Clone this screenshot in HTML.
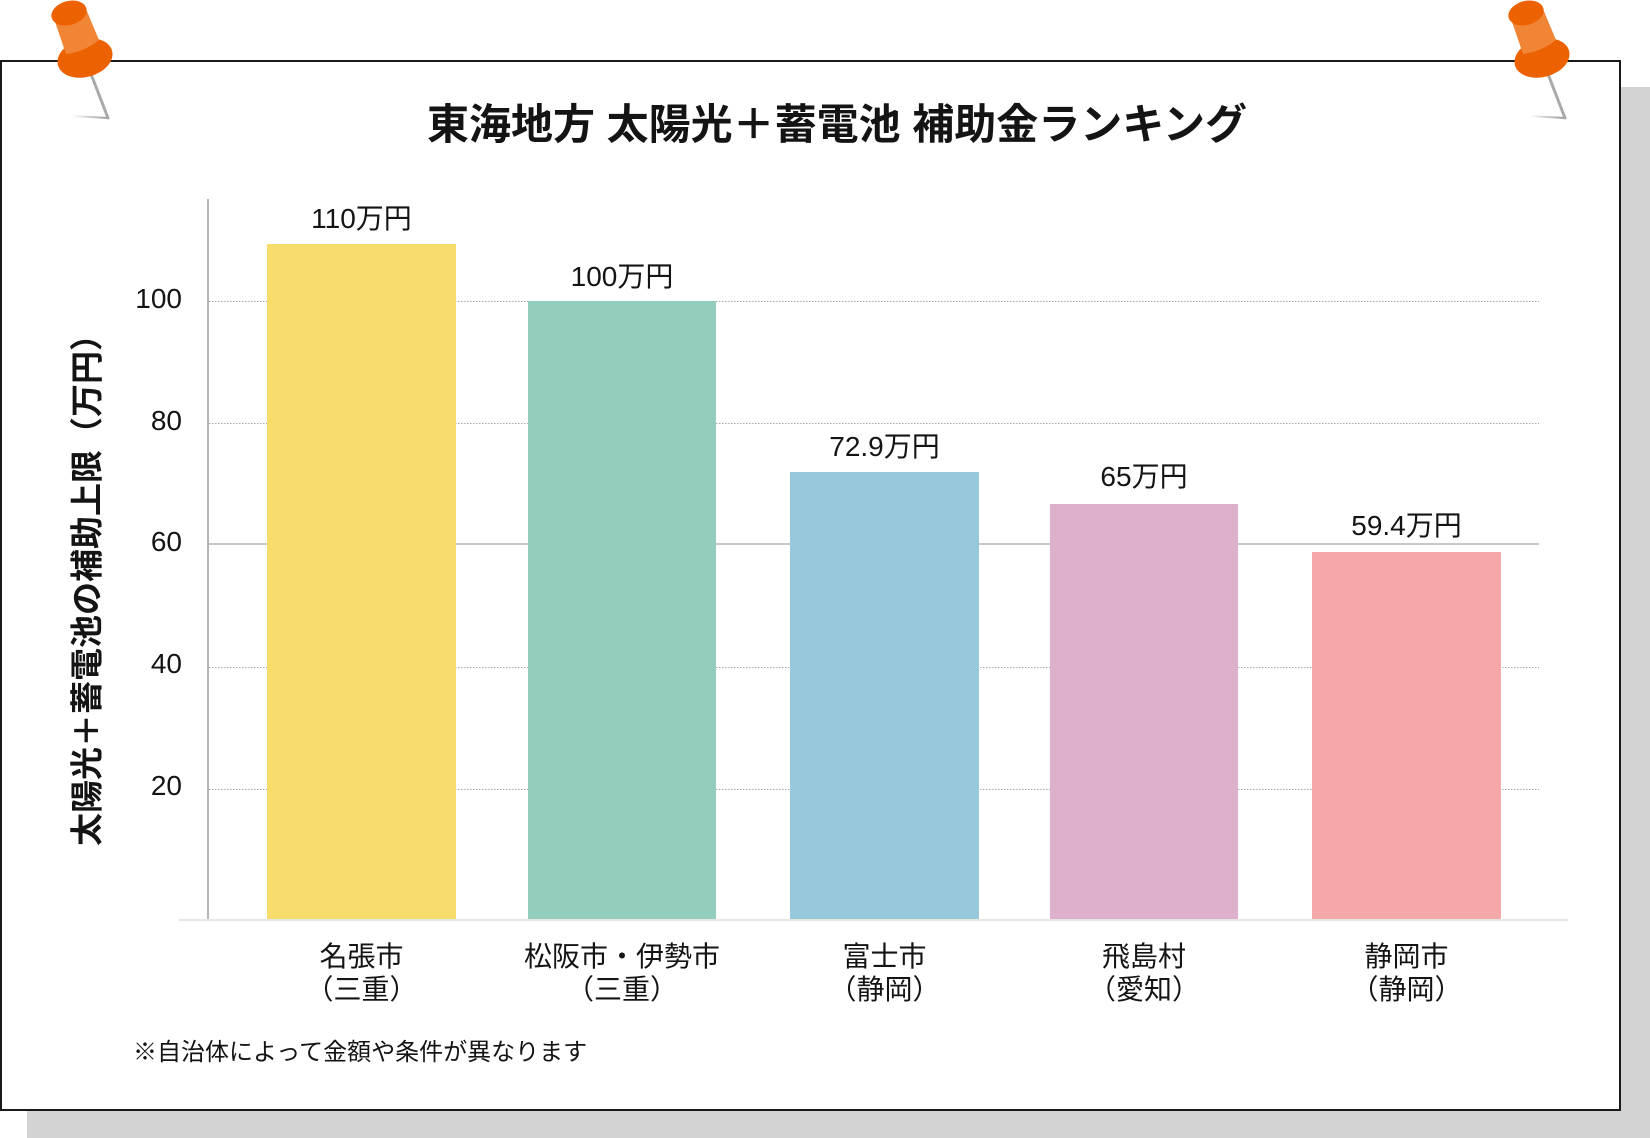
<!DOCTYPE html>
<html lang="ja">
<head>
<meta charset="utf-8">
<style>
  html, body { margin: 0; padding: 0; background: #ffffff; }
  body { width: 1650px; height: 1138px; overflow: hidden; }
  svg { display: block; }
  text { font-family: "Liberation Sans", "Noto Sans CJK JP", sans-serif; fill: #141414; }
</style>
</head>
<body>
<svg width="1650" height="1138" viewBox="0 0 1650 1138" xmlns="http://www.w3.org/2000/svg">
  <defs>
    <linearGradient id="needleTail" x1="1" y1="0" x2="0" y2="0">
      <stop offset="0" stop-color="#9a9a9a"/>
      <stop offset="1" stop-color="#9a9a9a" stop-opacity="0"/>
    </linearGradient>
  </defs>

  <!-- shadow -->
  <rect x="27" y="87" width="1623" height="1051" fill="#d3d3d3"/>
  <!-- paper frame -->
  <rect x="1" y="61" width="1619" height="1049" fill="#ffffff" stroke="#1a1a1a" stroke-width="2"/>

  <!-- title -->
  <text x="837" y="139" font-size="42" font-weight="700" text-anchor="middle" fill="#111">東海地方 太陽光＋蓄電池 補助金ランキング</text>

  <!-- gridlines -->
  <g stroke="#a8a8a8" stroke-width="1" stroke-dasharray="1.5,1.5">
    <line x1="209" y1="301.5" x2="1539" y2="301.5"/>
    <line x1="209" y1="423.5" x2="1539" y2="423.5"/>
    <line x1="209" y1="667.5" x2="1539" y2="667.5"/>
    <line x1="209" y1="789.5" x2="1539" y2="789.5"/>
  </g>
  <line x1="209" y1="544" x2="1539" y2="544" stroke="#c8c8c8" stroke-width="2"/>

  <!-- y axis line -->
  <line x1="208" y1="199" x2="208" y2="920" stroke="#6a6a6a" stroke-width="1"/>

  <!-- tick labels -->
  <g font-size="28" text-anchor="end">
    <text x="182" y="308">100</text>
    <text x="182" y="430">80</text>
    <text x="182" y="551">60</text>
    <text x="182" y="673">40</text>
    <text x="182" y="795">20</text>
  </g>

  <!-- bars -->
  <rect x="267" y="244" width="189" height="675" fill="#f6dd6b"/>
  <rect x="528" y="301" width="188" height="618" fill="#93cdbd"/>
  <rect x="790" y="472" width="189" height="447" fill="#98c8db"/>
  <rect x="1050" y="504" width="188" height="415" fill="#ddb0cb"/>
  <rect x="1312" y="552" width="189" height="367" fill="#f3a7a7"/>

  <!-- baseline -->
  <line x1="179" y1="920" x2="1568" y2="920" stroke="#e6e6e2" stroke-width="2"/>

  <!-- value labels -->
  <g font-size="28" text-anchor="middle">
    <text x="361.5" y="228">110万円</text>
    <text x="622" y="286">100万円</text>
    <text x="884.5" y="456">72.9万円</text>
    <text x="1144" y="486">65万円</text>
    <text x="1406.5" y="535">59.4万円</text>
  </g>

  <!-- category labels -->
  <g font-size="28" text-anchor="middle">
    <text x="361.5" y="966">名張市</text>
    <text x="361.5" y="999">（三重）</text>
    <text x="622" y="966">松阪市・伊勢市</text>
    <text x="622" y="999">（三重）</text>
    <text x="884.5" y="966">富士市</text>
    <text x="884.5" y="999">（静岡）</text>
    <text x="1144" y="966">飛島村</text>
    <text x="1144" y="999">（愛知）</text>
    <text x="1406.5" y="966">静岡市</text>
    <text x="1406.5" y="999">（静岡）</text>
  </g>

  <!-- y axis title -->
  <text transform="translate(86,582) rotate(-90)" x="0" y="12.5" font-size="33" font-weight="700" text-anchor="middle" fill="#111">太陽光＋蓄電池の補助上限（万円）</text>

  <!-- footnote -->
  <text x="133" y="1060" font-size="24" fill="#222">※自治体によって金額や条件が異なります</text>

  <!-- push pins -->
  <g id="pin">
    <line x1="108" y1="118" x2="72" y2="116" stroke="url(#needleTail)" stroke-width="2"/>
    <line x1="91" y1="74" x2="108" y2="118" stroke="#a9a9a9" stroke-width="3" stroke-linecap="round"/>
    <ellipse cx="85" cy="58" rx="28" ry="19" transform="rotate(-15 85 58)" fill="#ec6100"/>
    <path d="M53 16 L86 9 L99 40 Q84 52 66 54 Z" fill="#f08536"/>
    <ellipse cx="69" cy="13" rx="18" ry="12" transform="rotate(-15 69 13)" fill="#ec6100"/>
  </g>
  <use href="#pin" transform="translate(1457,0)"/>
</svg>
</body>
</html>
